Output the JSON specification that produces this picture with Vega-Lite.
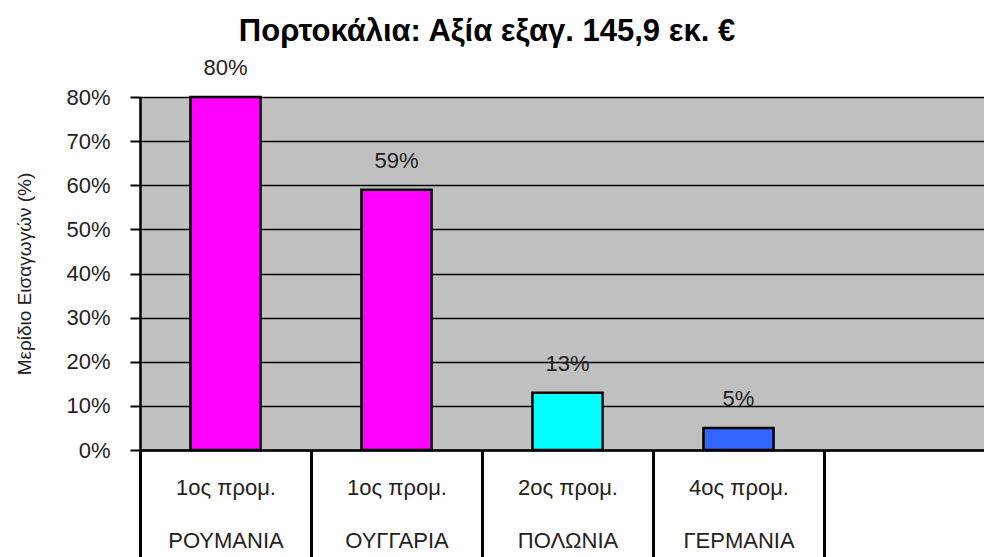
{
  "$schema": "https://vega.github.io/schema/vega-lite/v6.json",
  "width": 844,
  "height": 353,
  "autosize": {"type": "none"},
  "padding": {"left": 140, "top": 97, "right": 0, "bottom": 107},
  "background": "white",
  "config": {
    "font": "Liberation Sans",
    "view": {"fill": "#C0C0C0", "stroke": null}
  },
  "title": {
    "text": "Πορτοκάλια: Αξία εξαγ. 145,9 εκ. €",
    "font": "Liberation Sans",
    "fontSize": 31,
    "fontWeight": "bold",
    "color": "black",
    "anchor": "middle",
    "dx": -75,
    "offset": 9
  },
  "data": {
    "values": [
      {"category": "1ος προμ.|ΡΟΥΜΑΝΙΑ", "rank": "1ος προμ.", "share": 0.80},
      {"category": "1ος προμ.|ΟΥΓΓΑΡΙΑ", "rank": "1ος προμ.", "share": 0.59},
      {"category": "2ος προμ.|ΠΟΛΩΝΙΑ", "rank": "2ος προμ.", "share": 0.13},
      {"category": "4ος προμ.|ΓΕΡΜΑΝΙΑ", "rank": "4ος προμ.", "share": 0.05}
    ]
  },
  "encoding": {
    "x": {
      "field": "category",
      "type": "nominal",
      "sort": null,
      "scale": {
        "domain": ["1ος προμ.|ΡΟΥΜΑΝΙΑ", "1ος προμ.|ΟΥΓΓΑΡΙΑ", "2ος προμ.|ΠΟΛΩΝΙΑ", "4ος προμ.|ΓΕΡΜΑΝΙΑ", "-"],
        "range": [0, 855],
        "paddingInner": 0,
        "paddingOuter": 0
      },
      "axis": {
        "title": null,
        "labelAngle": 0,
        "labelExpr": "(datum.value == null || datum.value == '-') ? '' : split(datum.value, '|')",
        "labelFont": "Liberation Sans",
        "labelFontSize": 22,
        "labelColor": "#222222",
        "labelBaseline": "top",
        "labelLineHeight": 53,
        "labelPadding": -80,
        "tickBand": "extent",
        "tickSize": 107,
        "tickWidth": 3,
        "tickColor": "black",
        "domainColor": "black",
        "domainWidth": 2.5,
        "grid": false
      }
    },
    "y": {
      "field": "share",
      "type": "quantitative",
      "scale": {"domain": [0, 0.8], "nice": false},
      "axis": {
        "title": "Μερίδιο Εισαγωγών (%)",
        "titleFont": "Liberation Sans",
        "titleFontSize": 19,
        "titleFontWeight": "normal",
        "titleColor": "#222222",
        "titlePadding": 31,
        "values": [0, 0.1, 0.2, 0.3, 0.4, 0.5, 0.6, 0.7, 0.8],
        "format": ".0%",
        "labelFont": "Liberation Sans",
        "labelFontSize": 22,
        "labelColor": "#222222",
        "labelPadding": 20,
        "tickSize": 10,
        "tickWidth": 2,
        "tickColor": "black",
        "domainColor": "black",
        "domainWidth": 2.5,
        "grid": true,
        "gridColor": "black",
        "gridWidth": 1.5,
        "gridOpacity": 1
      }
    }
  },
  "layer": [
    {
      "mark": {"type": "bar", "stroke": "black", "strokeWidth": 2.5, "width": {"band": 0.41}},
      "encoding": {
        "color": {
          "field": "rank",
          "type": "nominal",
          "scale": {"domain": ["1ος προμ.", "2ος προμ.", "4ος προμ."], "range": ["#FF00FF", "#00FFFF", "#3366FF"]},
          "legend": null
        }
      }
    },
    {
      "mark": {"type": "text", "dy": -29, "baseline": "middle", "fontSize": 22, "font": "Liberation Sans", "color": "#222222"},
      "encoding": {
        "text": {"field": "share", "type": "quantitative", "format": ".0%"}
      }
    }
  ]
}
